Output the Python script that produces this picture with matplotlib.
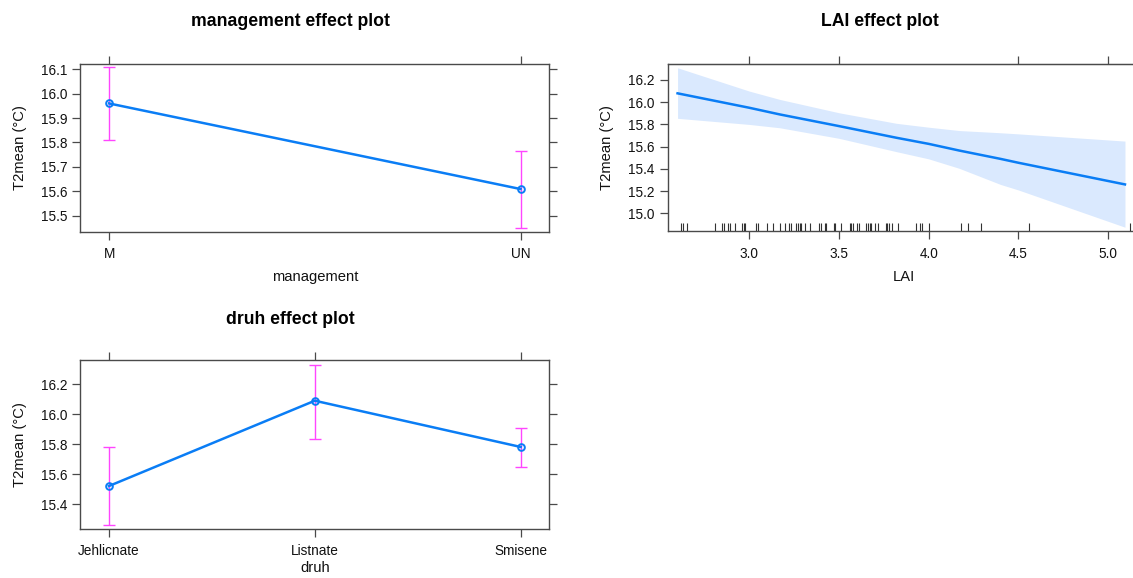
import matplotlib
matplotlib.use("Agg")
import matplotlib.pyplot as plt
import numpy as np

plt.rcParams['font.family'] = ['Liberation Sans', 'DejaVu Sans']

# ---------------- data ----------------
mgmt_levels = ["M", "UN"]
mgmt_fit = [15.96, 15.609]
mgmt_lower = [15.809, 15.45]
mgmt_upper = [16.108, 15.764]
mgmt_yticks = [15.5, 15.6, 15.7, 15.8, 15.9, 16.0, 16.1]

druh_levels = ["Jehlicnate", "Listnate", "Smisene"]
druh_fit = [15.52, 16.09, 15.781]
druh_lower = [15.257, 15.836, 15.645]
druh_upper = [15.78, 16.33, 15.91]
druh_yticks = [15.4, 15.6, 15.8, 16.0, 16.2]

lai_x = [2.60, 3.00, 3.17, 3.50, 3.82, 4.00, 4.17, 4.40, 4.50, 5.094]
lai_fit = [16.08, 15.95, 15.89, 15.785, 15.68, 15.625, 15.565, 15.49, 15.455, 15.26]
lai_lower = [15.855, 15.80, 15.77, 15.675, 15.555, 15.49, 15.405, 15.26, 15.21, 14.875]
lai_upper = [16.31, 16.10, 16.025, 15.905, 15.81, 15.775, 15.745, 15.725, 15.715, 15.65]
lai_rug = [2.62, 2.63, 2.65, 2.81, 2.85, 2.86, 2.88, 2.89, 2.92, 2.96, 2.97, 2.975,
           3.04, 3.05, 3.10, 3.13, 3.17, 3.20, 3.22, 3.23, 3.26, 3.27, 3.28, 3.29,
           3.31, 3.34, 3.39, 3.40, 3.42, 3.43, 3.47, 3.48, 3.51, 3.56, 3.565, 3.58,
           3.60, 3.61, 3.65, 3.66, 3.67, 3.68, 3.70, 3.72, 3.76, 3.77, 3.78, 3.795,
           3.83, 3.93, 3.95, 3.96, 4.00, 4.18, 4.22, 4.29, 4.56, 5.12]
lai_xticks = [3.0, 3.5, 4.0, 4.5, 5.0]
lai_xticks_top = [3.0, 3.5, 4.5, 5.0]
lai_yticks = [15.0, 15.2, 15.4, 15.6, 15.8, 16.0, 16.2]

ylabel = "T2mean (°C)"

# ---------------- style ----------------
W, H = 1133, 578
BLUE = "#0A7DF5"
MAG = "#FF45FF"
BAND = "#DAE9FE"
AXC = "#4a4a4a"
TICK_FS = 9.8
LAB_FS = 10.6
TITLE_FS = 12.7

fig = plt.figure(figsize=(W / 100, H / 100), dpi=100)


def ax_at(l, t, r, b):
    return fig.add_axes([l / W, 1 - b / H, (r - l) / W, (b - t) / H])


def ftext(x, y, s, **kw):
    fig.text(x / W, 1 - y / H, s, ha='center', va='center', **kw)


def style(ax, top=True, right=True):
    for sp in ax.spines.values():
        sp.set_color(AXC)
        sp.set_linewidth(1.0)
    ax.tick_params(direction='out', length=5.8, width=0.9, color=AXC,
                   top=top, right=right, labeltop=False, labelright=False,
                   labelsize=TICK_FS, labelcolor='#111111')
    ax.tick_params(axis='y', pad=3.5)
    ax.tick_params(axis='x', pad=5.5)


def factor_panel(ax, levels, fit, lower, upper, yticks, xlim, ylim):
    pos = np.arange(1, len(levels) + 1)
    fit = np.asarray(fit)
    err = np.vstack([fit - np.asarray(lower), np.asarray(upper) - fit])
    ax.errorbar(pos, fit, yerr=err, fmt='none', ecolor=MAG, elinewidth=1.0,
                capsize=4.0, capthick=1.0, zorder=2)
    ax.plot(pos, fit, color=BLUE, lw=1.8, marker='o', ms=4.8, mfc='none',
            mec=BLUE, mew=1.4, zorder=3)
    ax.set_xticks(pos)
    ax.set_xticklabels(levels)
    ax.set_yticks(yticks)
    ax.set_yticklabels([f"{v:.1f}" for v in yticks])
    ax.set_xlim(*xlim)
    ax.set_ylim(*ylim)
    style(ax)


# management panel
ax1 = ax_at(80.3, 63.7, 549.3, 231.7)
factor_panel(ax1, mgmt_levels, mgmt_fit, mgmt_lower, mgmt_upper, mgmt_yticks,
             (0.93, 2.07), (15.434, 16.123))

# druh panel
ax3 = ax_at(80.3, 360.3, 549.3, 528.7)
factor_panel(ax3, druh_levels, druh_fit, druh_lower, druh_upper, druh_yticks,
             (0.861, 3.139), (15.235, 16.36))

# LAI panel
ax2 = ax_at(667.5, 64.0, 1140.0, 231.3)
ax2.fill_between(lai_x, lai_lower, lai_upper, color=BAND, lw=0, zorder=1)
ax2.plot(lai_x, lai_fit, color=BLUE, lw=1.8, zorder=3)
ax2.vlines(lai_rug, 0, 0.048, transform=ax2.get_xaxis_transform(),
           color='#333333', lw=0.8, zorder=4)
ax2.set_xticks(lai_xticks)
ax2.set_xticklabels([f"{v:.1f}" for v in lai_xticks])
ax2.set_yticks(lai_yticks)
ax2.set_yticklabels([f"{v:.1f}" for v in lai_yticks])
ax2.set_xlim(2.544, 2.544 + (1140.0 - 667.5) / 179.4)
ax2.set_ylim(14.838, 16.344)
style(ax2, top=False)
sec = ax2.secondary_xaxis('top')
sec.set_xticks(lai_xticks_top)
sec.tick_params(direction='out', length=5.8, width=0.9, color=AXC,
                labeltop=False)
sec.spines['top'].set_color(AXC)

# texts
ftext(290.6, 21.7, "management effect plot", fontsize=TITLE_FS, fontweight='bold')
ftext(880.0, 21.7, "LAI effect plot", fontsize=TITLE_FS, fontweight='bold')
ftext(290.0, 319.3, "druh effect plot", fontsize=TITLE_FS, fontweight='bold')

ftext(314.8, 276.7, "management", fontsize=LAB_FS, color='#111111')
ftext(904.0, 276.7, "LAI", fontsize=LAB_FS, color='#111111')
ftext(314.8, 568.5, "druh", fontsize=LAB_FS, color='#111111')

ftext(20.0, 147.7, ylabel, fontsize=LAB_FS, rotation=90, color='#111111')
ftext(606.7, 147.7, ylabel, fontsize=LAB_FS, rotation=90, color='#111111')
ftext(20.0, 444.5, ylabel, fontsize=LAB_FS, rotation=90, color='#111111')

fig.savefig("out.png", dpi=100)
